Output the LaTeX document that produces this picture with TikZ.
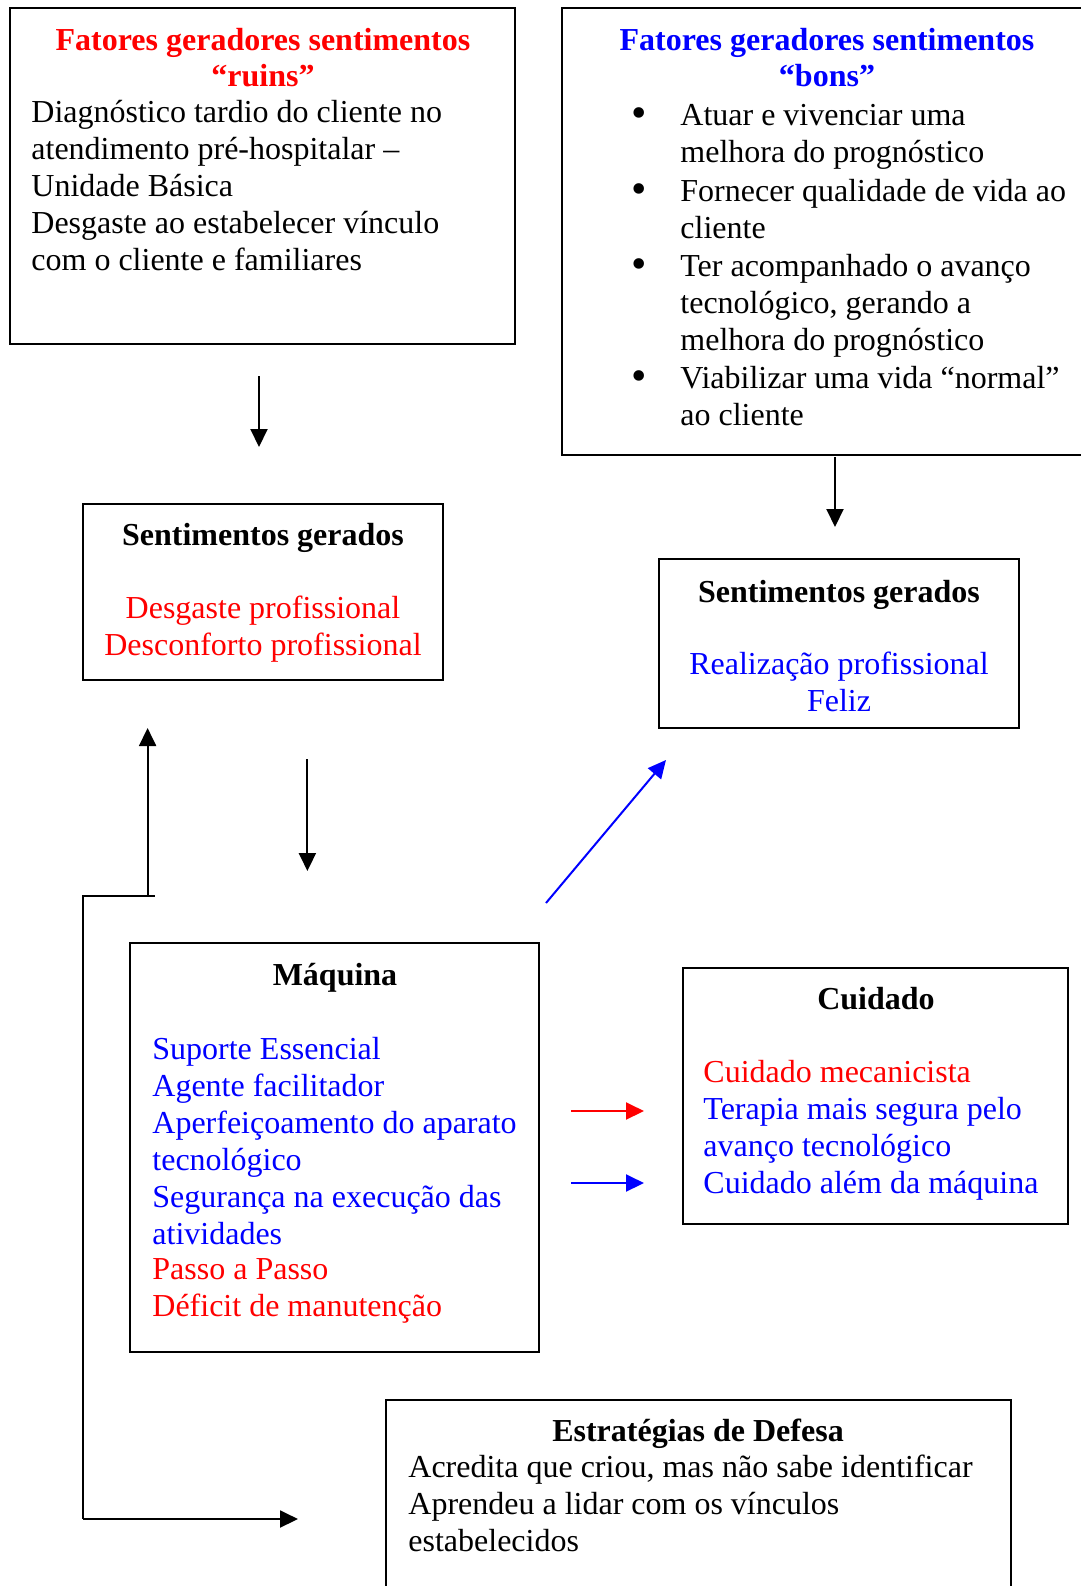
\documentclass[tikz,border=0pt]{standalone}
\usepackage{fontspec}
\setmainfont{Liberation Serif}
\usetikzlibrary{arrows.meta,fit}
\definecolor{cred}{RGB}{255,0,0}
\definecolor{cblue}{RGB}{0,0,255}
\newcommand{\llines}[1]{\begin{tabular}[t]{@{}l@{}}#1\end{tabular}}
\newcommand{\clines}[1]{\begin{tabular}[t]{@{}c@{}}#1\end{tabular}}
\begin{document}
\begin{tikzpicture}[x=0.5pt,y=-0.5pt,
  box/.style={draw=black,line width=1pt,inner sep=0pt,rectangle},
  txt/.style={inner sep=0pt,anchor=base west,yshift=-1pt,font=\fontsize{16}{18.5}\selectfont},
  ttl/.style={inner sep=0pt,anchor=base,yshift=-1pt,font=\fontsize{16}{18.2}\selectfont\bfseries},
  ctr/.style={inner sep=0pt,anchor=base,yshift=-1pt,font=\fontsize{16}{18.5}\selectfont},
  bul/.style={inner sep=0pt,anchor=base,yshift=-1pt,font=\fontsize{22}{22}\selectfont},
  arr/.style={line width=1pt,-{Triangle[length=9pt,width=8.5pt]}},
  ln/.style={line width=1pt}]
\useasboundingbox (0,0) rectangle (1081,1586);
\fill[white] (0,0) rectangle (1081,1586);

% boxes
\node[box,fit={(10,8)(515,344)}] (ruins) {};
\node[box,fit={(562,8)(1095,455)}] (bons) {};
\node[box,fit={(83,504)(443,680)}] (sentA) {};
\node[box,fit={(659,559)(1019,728)}] (sentB) {};
\node[box,fit={(130,943)(539,1352)}] (maq) {};
\node[box,fit={(683,968)(1068,1224)}] (cuid) {};
\node[box,fit={(386,1400)(1011,1600)}] (estr) {};

% box 1 text
\node[ttl,text=cred] (t1) at (263,48) {\clines{Fatores geradores sentimentos\\“ruins”}};
\node[txt] (b1) at (31,120) {\llines{Diagnóstico tardio do cliente no\\atendimento pré-hospitalar –\\Unidade Básica\\Desgaste ao estabelecer vínculo\\com o cliente e familiares}};

% box 2 text
\node[ttl,text=cblue] (t2) at (827,48) {\clines{Fatores geradores sentimentos\\“bons”}};
\node[bul] (p1) at (639,125) {•};
\node[txt] (i1) at (680,123) {\llines{Atuar e vivenciar uma\\melhora do prognóstico}};
\node[bul] (p2) at (639,201) {•};
\node[txt] (i2) at (680,199) {\llines{Fornecer qualidade de vida ao\\cliente}};
\node[bul] (p3) at (639,276) {•};
\node[txt] (i3) at (680,274) {\llines{Ter acompanhado o avanço\\tecnológico, gerando a\\melhora do prognóstico}};
\node[bul] (p4) at (639,388) {•};
\node[txt] (i4) at (680,386) {\llines{Viabilizar uma vida “normal”\\ao cliente}};

% sentimentos A
\node[ttl] (t3) at (263,543) {Sentimentos gerados};
\node[ctr,text=cred] (s1) at (263,616) {\clines{Desgaste profissional\\Desconforto profissional}};

% sentimentos B
\node[ttl] (t4) at (839,600) {Sentimentos gerados};
\node[ctr,text=cblue] (s2) at (839,672) {\clines{Realização profissional\\Feliz}};

% maquina
\node[ttl] (t5) at (335,983) {Máquina};
\node[txt,text=cblue] (m1) at (152,1057) {\llines{Suporte Essencial\\Agente facilitador\\Aperfeiçoamento do aparato\\tecnológico\\Segurança na execução das\\atividades}};
\node[txt,text=cred] (m2) at (152,1277) {\llines{Passo a Passo\\Déficit de manutenção}};

% cuidado
\node[ttl] (t6) at (876,1007) {Cuidado};
\node[txt,text=cred] (c1) at (703,1080) {Cuidado mecanicista};
\node[txt,text=cblue] (c2) at (703,1117) {\llines{Terapia mais segura pelo\\avanço tecnológico\\Cuidado além da máquina}};

% estrategias
\node[ttl] (t7) at (698,1439) {Estratégias de Defesa};
\node[txt] (e1) at (408,1475) {\llines{Acredita que criou, mas não sabe identificar\\Aprendeu a lidar com os vínculos\\estabelecidos}};

% connector coordinates
\coordinate (a1s) at (259,376); \coordinate (a1e) at (259,447);
\coordinate (a2s) at (835,457); \coordinate (a2e) at (835,527);
\coordinate (upS) at (147.6,896); \coordinate (upE) at (147.6,728);
\coordinate (hR) at (154.7,896); \coordinate (hL) at (83,896);
\coordinate (vB) at (83,1519); \coordinate (bE) at (298,1519);
\coordinate (dS) at (307.4,759); \coordinate (dE) at (307.4,871);
\coordinate (gS) at (546,903); \coordinate (gE) at (666,760);
\coordinate (rS) at (571,1111); \coordinate (rE) at (644,1111);
\coordinate (bS) at (571,1183); \coordinate (bE2) at (644,1183);

\draw[arr] (a1s) -- (a1e);
\draw[arr] (a2s) -- (a2e);
\draw[arr] (upS) -- (upE);
\draw[ln] (hR) -- (hL) -- (vB);
\draw[arr] (vB) -- (bE);
\draw[arr] (dS) -- (dE);
\draw[arr,cblue] (gS) -- (gE);
\draw[arr,cred] (rS) -- (rE);
\draw[arr,cblue] (bS) -- (bE2);
\end{tikzpicture}
\end{document}
